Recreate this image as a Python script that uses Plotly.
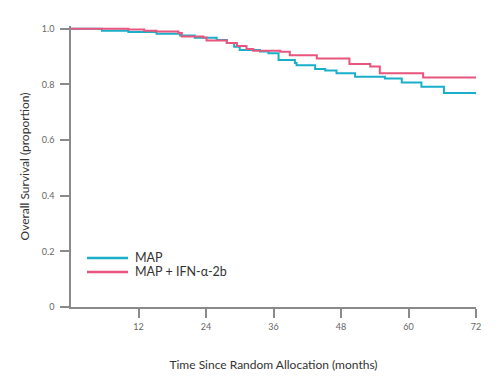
import plotly.graph_objects as go

# Kaplan-Meier style step data (months, survival proportion)
map_months = [0, 5.5, 10.2, 15.2, 19.4, 22.0, 25.9, 27.7, 29.0, 30.0, 33.6, 35.1,
              36.9, 39.8, 40.1, 43.4, 45.2, 47.2, 50.5, 55.8, 58.8, 62.3, 66.3, 72.0]
map_surv = [1.0, 0.993, 0.988, 0.982, 0.976, 0.968, 0.960, 0.949, 0.935, 0.924, 0.918, 0.912,
            0.888, 0.877, 0.869, 0.855, 0.850, 0.840, 0.828, 0.821, 0.807, 0.792, 0.769, 0.765]

ifn_months = [0, 10.2, 13.0, 15.2, 19.1, 19.7, 23.5, 24.1, 27.7, 29.5, 31.2, 32.4,
              37.2, 38.9, 43.7, 49.5, 53.2, 54.9, 62.6, 72.0]
ifn_surv = [1.0, 0.997, 0.993, 0.990, 0.985, 0.972, 0.969, 0.958, 0.949, 0.938, 0.927, 0.921,
            0.917, 0.905, 0.893, 0.873, 0.864, 0.840, 0.825, 0.825]

x_ticks = [12, 24, 36, 48, 60, 72]
y_ticks = [0, 0.2, 0.4, 0.6, 0.8, 1.0]
y_tick_labels = ["0", "0.2", "0.4", "0.6", "0.8", "1.0"]

series_names = ["MAP", "MAP + IFN-α-2b"]
colors = ["#1aafc9", "#e8557d"]

fig = go.Figure()
fig.add_trace(go.Scatter(x=map_months, y=map_surv, mode="lines", line_shape="hv",
                         name=series_names[0], line=dict(color=colors[0], width=2)))
fig.add_trace(go.Scatter(x=ifn_months, y=ifn_surv, mode="lines", line_shape="hv",
                         name=series_names[1], line=dict(color=colors[1], width=2)))

axis_color = "#8a8a8a"
fig.update_layout(
    width=492, height=376,
    margin=dict(l=63, r=24, t=18, b=77),
    plot_bgcolor="white", paper_bgcolor="white",
    showlegend=False,
    font=dict(family="Lato, sans-serif", color="#333"),
    xaxis=dict(range=[0, 72], tickvals=x_ticks, showgrid=False, zeroline=False,
               showline=True, linecolor=axis_color, linewidth=1.5,
               ticks="outside", ticklen=9, tickwidth=1.5, tickcolor=axis_color,
               tickfont=dict(size=9, color="#666"), ticklabelstandoff=1,
               title=dict(text="Time Since Random Allocation (months)",
                          font=dict(size=12, color="#333"), standoff=30)),
    yaxis=dict(range=[0, 1.01], tickvals=y_ticks, ticktext=y_tick_labels, showgrid=False,
               zeroline=False, showline=True, linecolor=axis_color, linewidth=1.5,
               ticks="outside", ticklen=9, tickwidth=1.5, tickcolor=axis_color,
               tickfont=dict(size=9, color="#666"), ticklabelstandoff=4,
               title=dict(text="Overall Survival (proportion)",
                          font=dict(size=12, color="#333"), standoff=10)),
)

# legend drawn manually to match the compact layout
legend_y = [0.1744, 0.1246]
for name, col, ly in zip(series_names, colors, legend_y):
    fig.add_shape(type="line", xref="paper", yref="paper", x0=0.0395, x1=0.1407,
                  y0=ly, y1=ly, line=dict(color=col, width=2.5))
    fig.add_annotation(xref="paper", yref="paper", x=0.153, y=ly, text=name,
                       showarrow=False, xanchor="left", yanchor="middle",
                       font=dict(size=12.5, color="#333"))

fig.write_html("out.html")
